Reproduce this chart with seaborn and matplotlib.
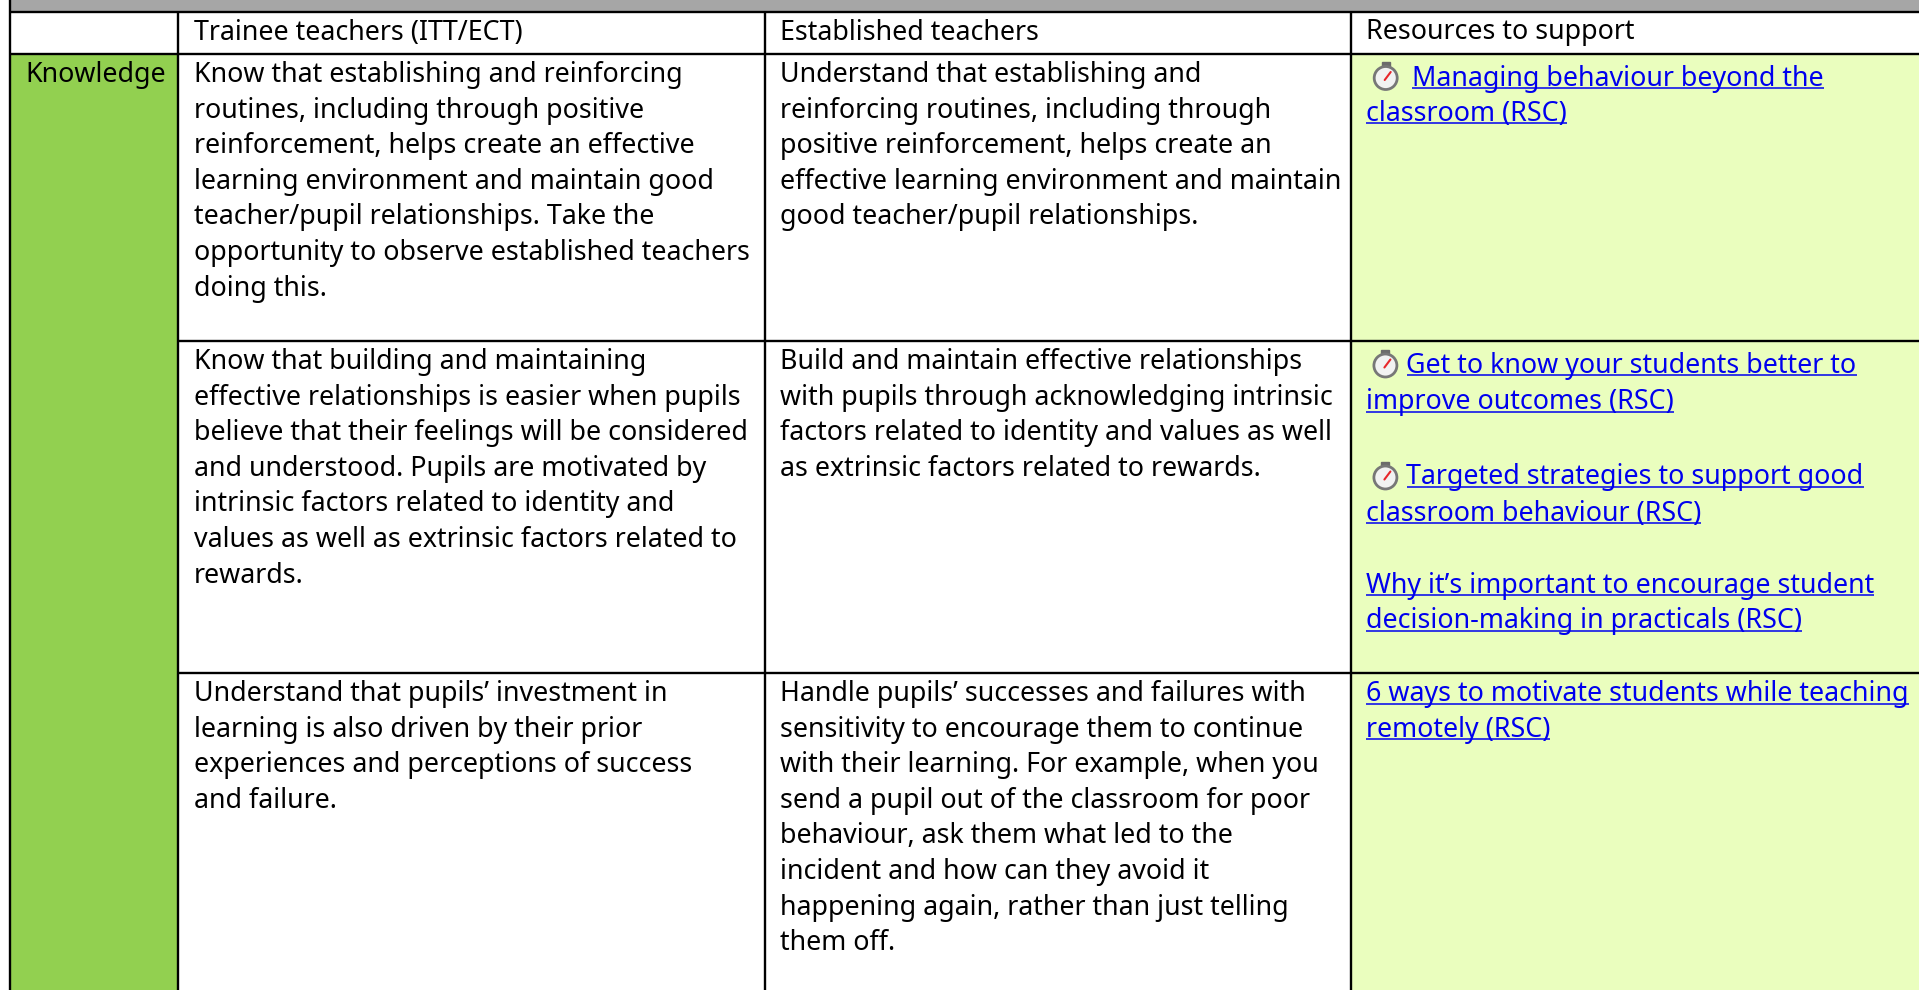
import matplotlib
matplotlib.use("Agg")
import matplotlib.pyplot as plt
import numpy as np
import seaborn as sns
from matplotlib.colors import ListedColormap
from matplotlib.patches import Circle, Rectangle

sns.set_style("white")
plt.rcParams['font.family'] = ['Noto Sans', 'DejaVu Sans']

# table layout, in pixels of the screenshot
col_edges = [0, 10, 178, 765, 1351, 1919]
row_edges = [0, 12, 54, 341, 673, 990]
# 0 white, 1 grey, 2 green, 3 light green
cell_codes = [
    [0, 1, 1, 1, 1],
    [0, 0, 0, 0, 0],
    [0, 2, 0, 0, 3],
    [0, 2, 0, 0, 3],
    [0, 2, 0, 0, 3],
]
cell_colors = ["#FFFFFF", "#A6A6A6", "#92D050", "#EAFEBE"]

headers = ["Trainee teachers (ITT/ECT)", "Established teachers", "Resources to support"]
row_label = "Knowledge"

trainee_cells = [
    ["Know that establishing and reinforcing",
     "routines, including through positive",
     "reinforcement, helps create an effective",
     "learning environment and maintain good",
     "teacher/pupil relationships. Take the",
     "opportunity to observe established teachers",
     "doing this."],
    ["Know that building and maintaining",
     "effective relationships is easier when pupils",
     "believe that their feelings will be considered",
     "and understood. Pupils are motivated by",
     "intrinsic factors related to identity and",
     "values as well as extrinsic factors related to",
     "rewards."],
    ["Understand that pupils\u2019 investment in",
     "learning is also driven by their prior",
     "experiences and perceptions of success",
     "and failure."],
]
established_cells = [
    ["Understand that establishing and",
     "reinforcing routines, including through",
     "positive reinforcement, helps create an",
     "effective learning environment and maintain",
     "good teacher/pupil relationships."],
    ["Build and maintain effective relationships",
     "with pupils through acknowledging intrinsic",
     "factors related to identity and values as well",
     "as extrinsic factors related to rewards."],
    ["Handle pupils\u2019 successes and failures with",
     "sensitivity to encourage them to continue",
     "with their learning. For example, when you",
     "send a pupil out of the classroom for poor",
     "behaviour, ask them what led to the",
     "incident and how can they avoid it",
     "happening again, rather than just telling",
     "them off."],
]
# text, x, baseline
resource_links = [
    ("Managing behaviour beyond the", 1412, 85.7),
    ("classroom (RSC)", 1366, 120.7),
    ("Get to know your students better to", 1406.5, 372.7),
    ("improve outcomes (RSC)", 1366, 409.3),
    ("Targeted strategies to support good", 1406.5, 484.3),
    ("classroom behaviour (RSC)", 1366, 520.7),
    ("Why it\u2019s important to encourage student", 1366, 592.7),
    ("decision-making in practicals (RSC)", 1366, 628),
    ("6 ways to motivate students while teaching", 1366, 701),
    ("remotely (RSC)", 1366, 736.7),
]
watch_centres = [(1385.7, 78), (1385.4, 365.5), (1385.4, 477.5)]

FONT = 19.3
LINE_GAP = 35.6

fig, ax = plt.subplots()
fig.set_size_inches(19.19, 9.90)
fig.subplots_adjust(left=0, right=1, bottom=0, top=1)

# cell fills: one heatmap unit per pixel
widths = np.diff(col_edges)
heights = np.diff(row_edges)
grid = np.repeat(np.repeat(np.array(cell_codes), heights, axis=0), widths, axis=1)
sns.heatmap(grid, ax=ax, cmap=ListedColormap(cell_colors), vmin=0, vmax=3, cbar=False,
            xticklabels=False, yticklabels=False, rasterized=True)

# table rules
rule = dict(colors="black", linewidth=1.7, zorder=3)
ax.vlines(col_edges[1], 0, 990, **rule)
ax.vlines(col_edges[2:5], row_edges[1], 990, **rule)
ax.hlines(row_edges[1:3], col_edges[1], 1919, **rule)
ax.hlines(row_edges[3:5], col_edges[2], 1919, **rule)


def put_text(x, y, text, color="black"):
    return ax.text(x, y, text, fontsize=FONT, color=color, va="baseline", ha="left", zorder=4)


for x, text in zip([194, 780.5, 1366], headers):
    put_text(x, 39.5, text)
put_text(25.5, 82, row_label)

for x, cells in [(194, trainee_cells), (780.5, established_cells)]:
    for top, lines in zip(row_edges[2:5], cells):
        for i, line in enumerate(lines):
            put_text(x, top + 28 + i * LINE_GAP, line)

# hyperlinks with underline taken from the drawn text width
link_texts = [(put_text(x, y, text, color="#0000EE"), y) for text, x, y in resource_links]
fig.canvas.draw()
renderer = fig.canvas.get_renderer()
for t, y in link_texts:
    box = t.get_window_extent(renderer)
    ax.hlines(y + 2.5, box.x0, box.x1, colors="#0000EE", linewidth=1.1, zorder=4)

# stopwatch emoji
for cx, cy in watch_centres:
    ax.add_patch(Rectangle((cx - 4, cy - 16), 8, 5, color="#6B6B6B", zorder=4))
    ax.add_patch(Circle((cx, cy), 11.5, facecolor="#F2F2F2", edgecolor="#777777", linewidth=2, zorder=4))
    ax.plot([cx - 1, cx + 5], [cy + 2, cy - 6], color="#E8262A", linewidth=1.5, zorder=5)

fig.savefig("out.png", dpi=100)
